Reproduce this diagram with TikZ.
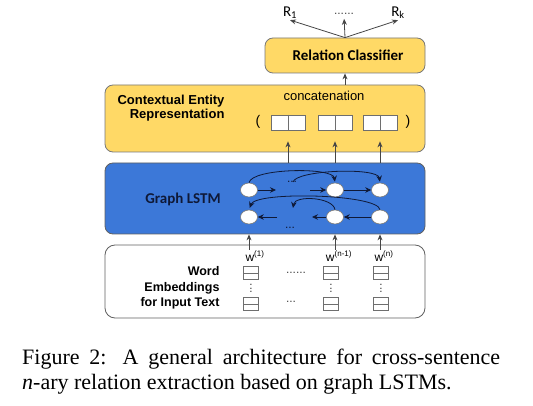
\documentclass[tikz,border=0pt]{standalone}
\usepackage{fontspec}
\setmainfont{Liberation Serif}
\setsansfont{Liberation Sans}
\newfontfamily\calibrifont{Carlito}
\usetikzlibrary{arrows.meta}
\usetikzlibrary{shapes.geometric}

\definecolor{boxyellow}{RGB}{255,217,102}
\definecolor{boxblue}{RGB}{60,120,216}
\definecolor{rimgray}{RGB}{120,120,120}
\definecolor{arrowgray}{RGB}{70,70,70}
\definecolor{cellgray}{RGB}{110,110,110}
\definecolor{inkblue}{RGB}{15,25,55}

\begin{document}
\begin{tikzpicture}[x=1pt, y=-1pt,
    panel/.style={draw=rimgray, rounded corners=8pt, line width=0.8pt, inner sep=0pt},
    cell/.style={draw=cellgray, fill=white, inner sep=0pt, line width=0.7pt},
    unit/.style={draw=rimgray, fill=white, ellipse, minimum width=17pt, minimum height=14pt, inner sep=0pt, line width=0.6pt},
    uparrow/.style={draw=arrowgray, line width=0.8pt, -{Stealth[length=6pt,width=5pt]}},
    flow/.style={draw=inkblue, line width=0.8pt, -{Stealth[length=6pt,width=5.5pt]}},
    sflabel/.style={font=\fontsize{13}{14}\sffamily\bfseries},
    callabel/.style={font=\fontsize{15}{18}\calibrifont\bfseries},
    dotlabel/.style={font=\fontsize{12}{12}\sffamily, text=arrowgray, inner sep=1pt}
]
    \useasboundingbox (0,0) rectangle (533,406);

    % outputs
    \node[font=\fontsize{15}{18}\calibrifont, inner sep=1pt] (r1) at (290,13) {R\textsubscript{1}};
    \node[dotlabel] (rdots) at (344,14) {......};
    \node[font=\fontsize{15}{18}\calibrifont, inner sep=1pt] (rk) at (398,13) {R\textsubscript{k}};

    % relation classifier
    \node[panel, fill=boxyellow, minimum width=160, minimum height=35, callabel] (classifier) at (345,55.5) {\hspace*{6pt}Relation Classifier};

    % contextual entity representation
    \node[panel, fill=boxyellow, minimum width=320, minimum height=67] (context) at (265,118.5) {};
    \node[sflabel, align=right, anchor=east] (contextlabel) at (228,108) {Contextual Entity\\Representation};
    \node[font=\fontsize{13}{15}\sffamily] (concat) at (324,96) {concatenation};
    \node[font=\fontsize{14}{16}\sffamily] (lparen) at (258,122) {(};
    \node[font=\fontsize{14}{16}\sffamily] (rparen) at (408,122) {)};
    \node[cell, minimum width=34, minimum height=15] (cat1) at (288,122.5) {};
    \node[cell, minimum width=34, minimum height=15] (cat2) at (335,122.5) {};
    \node[cell, minimum width=34, minimum height=15] (cat3) at (380,122.5) {};
    \draw[cellgray, line width=0.7pt] (cat1.north) -- (cat1.south);
    \draw[cellgray, line width=0.7pt] (cat2.north) -- (cat2.south);
    \draw[cellgray, line width=0.7pt] (cat3.north) -- (cat3.south);

    % graph lstm
    \node[panel, fill=boxblue, draw=rimgray!80!black, minimum width=320, minimum height=71] (lstm) at (265,198.5) {};
    \node[callabel, text=inkblue] (lstmlabel) at (183,199) {Graph LSTM};
    \node[unit] (fwd1) at (249,190) {};
    \node[unit] (fwd2) at (335,190) {};
    \node[unit] (fwd3) at (380,190) {};
    \node[unit] (bwd1) at (249,217) {};
    \node[unit] (bwd2) at (335,217) {};
    \node[unit] (bwd3) at (380,217) {};
    \node[dotlabel, text=inkblue] (fdots) at (292,182) {...};
    \node[dotlabel, text=inkblue] (bdots) at (290,228) {...};
    \coordinate (fgapL) at (276,190);
    \coordinate (fgapR) at (310,190);
    \coordinate (fskip) at (293,182);
    \coordinate (bgapR) at (312,217);
    \coordinate (bgapL) at (277,217);
    \coordinate (bskip) at (293,208);

    \draw[flow] (fwd1) -- (fgapL);
    \draw[flow] (fgapR) -- (fwd2);
    \draw[flow] (fwd2) -- (fwd3);
    \draw[flow] (bwd3) -- (bwd2);
    \draw[flow] (bwd2) -- (bgapR);
    \draw[flow] (bgapL) -- (bwd1);
    \draw[flow, shorten >=1pt] (fwd1.north) .. controls (252,168) and (333,167) .. (fwd2.north);
    \draw[flow, shorten >=1pt] (fskip) .. controls (296,170) and (378,167) .. (fwd3.north);
    \draw[flow, shorten >=2pt] (bwd3.north) .. controls (378,194) and (256,191) .. (bwd1.north);
    \draw[flow] (bwd2.north) .. controls (333,197) and (295,195) .. (bskip);

    % word embeddings
    \node[panel, fill=white, draw=rimgray!80!black, rounded corners=10pt, minimum width=320, minimum height=73] (embed) at (265,281.5) {};
    \node[font=\fontsize{12.5}{15.5}\sffamily\bfseries, align=right, anchor=east] (embedlabel) at (223,288) {Word\\Embeddings\\for Input Text};
    \node[font=\fontsize{12}{14}\sffamily, inner sep=1pt] (w1) at (255,256) {w\textsuperscript{(1)}};
    \node[font=\fontsize{12}{14}\sffamily, inner sep=1pt] (w2) at (339,256) {w\textsuperscript{(n-1)}};
    \node[font=\fontsize{12}{14}\sffamily, inner sep=1pt] (w3) at (384,256) {w\textsuperscript{(n)}};
    \node[cell, minimum width=15, minimum height=13] (e1) at (251,273) {};
    \node[cell, minimum width=15, minimum height=13] (e2) at (331,273) {};
    \node[cell, minimum width=15, minimum height=13] (e3) at (381,273) {};
    \node[cell, minimum width=15, minimum height=13] (f1) at (251,304) {};
    \node[cell, minimum width=15, minimum height=13] (f2) at (331,304) {};
    \node[cell, minimum width=15, minimum height=13] (f3) at (381,304) {};
    \draw[cellgray, line width=0.7pt] (e1.west) -- (e1.east);
    \draw[cellgray, line width=0.7pt] (e2.west) -- (e2.east);
    \draw[cellgray, line width=0.7pt] (e3.west) -- (e3.east);
    \draw[cellgray, line width=0.7pt] (f1.west) -- (f1.east);
    \draw[cellgray, line width=0.7pt] (f2.west) -- (f2.east);
    \draw[cellgray, line width=0.7pt] (f3.west) -- (f3.east);
    \node[dotlabel, rotate=90, inner sep=0pt] (v1) at (251,288.5) {...};
    \node[dotlabel, rotate=90, inner sep=0pt] (v2) at (331,288.5) {...};
    \node[dotlabel, rotate=90, inner sep=0pt] (v3) at (381,288.5) {...};
    \node[dotlabel] (edots) at (296,273) {......};
    \node[dotlabel] (fdots2) at (291,302) {...};

    % connectors
    \draw[uparrow] (classifier.north) -- (r1.south);
    \draw[uparrow, shorten >=3pt] (classifier.north) -- (rdots.south);
    \draw[uparrow] (classifier.north) -- (rk.south);
    \draw[uparrow] (context.north -| classifier.south) -- (classifier.south);
    \draw[uparrow, shorten >=11pt] (cat1.south |- lstm.north) -- (cat1.south);
    \draw[uparrow, shorten >=11pt] (cat2.south |- lstm.north) -- (cat2.south);
    \draw[uparrow, shorten >=11pt] (cat3.south |- lstm.north) -- (cat3.south);
    \draw[uparrow] (bwd1 |- w1.north) -- (bwd1 |- lstm.south);
    \draw[uparrow] (bwd2 |- w2.north) -- (bwd2 |- lstm.south);
    \draw[uparrow] (bwd3 |- w3.north) -- (bwd3 |- lstm.south);

    % caption
    \node[font=\fontsize{22}{24.5}\selectfont, text width=478, align=justify, inner sep=0pt, anchor=north west] (caption) at (22,349) {Figure 2: A general architecture for cross-sentence\linebreak \textit{n}-ary relation extraction based on graph LSTMs.};
\end{tikzpicture}
\end{document}
